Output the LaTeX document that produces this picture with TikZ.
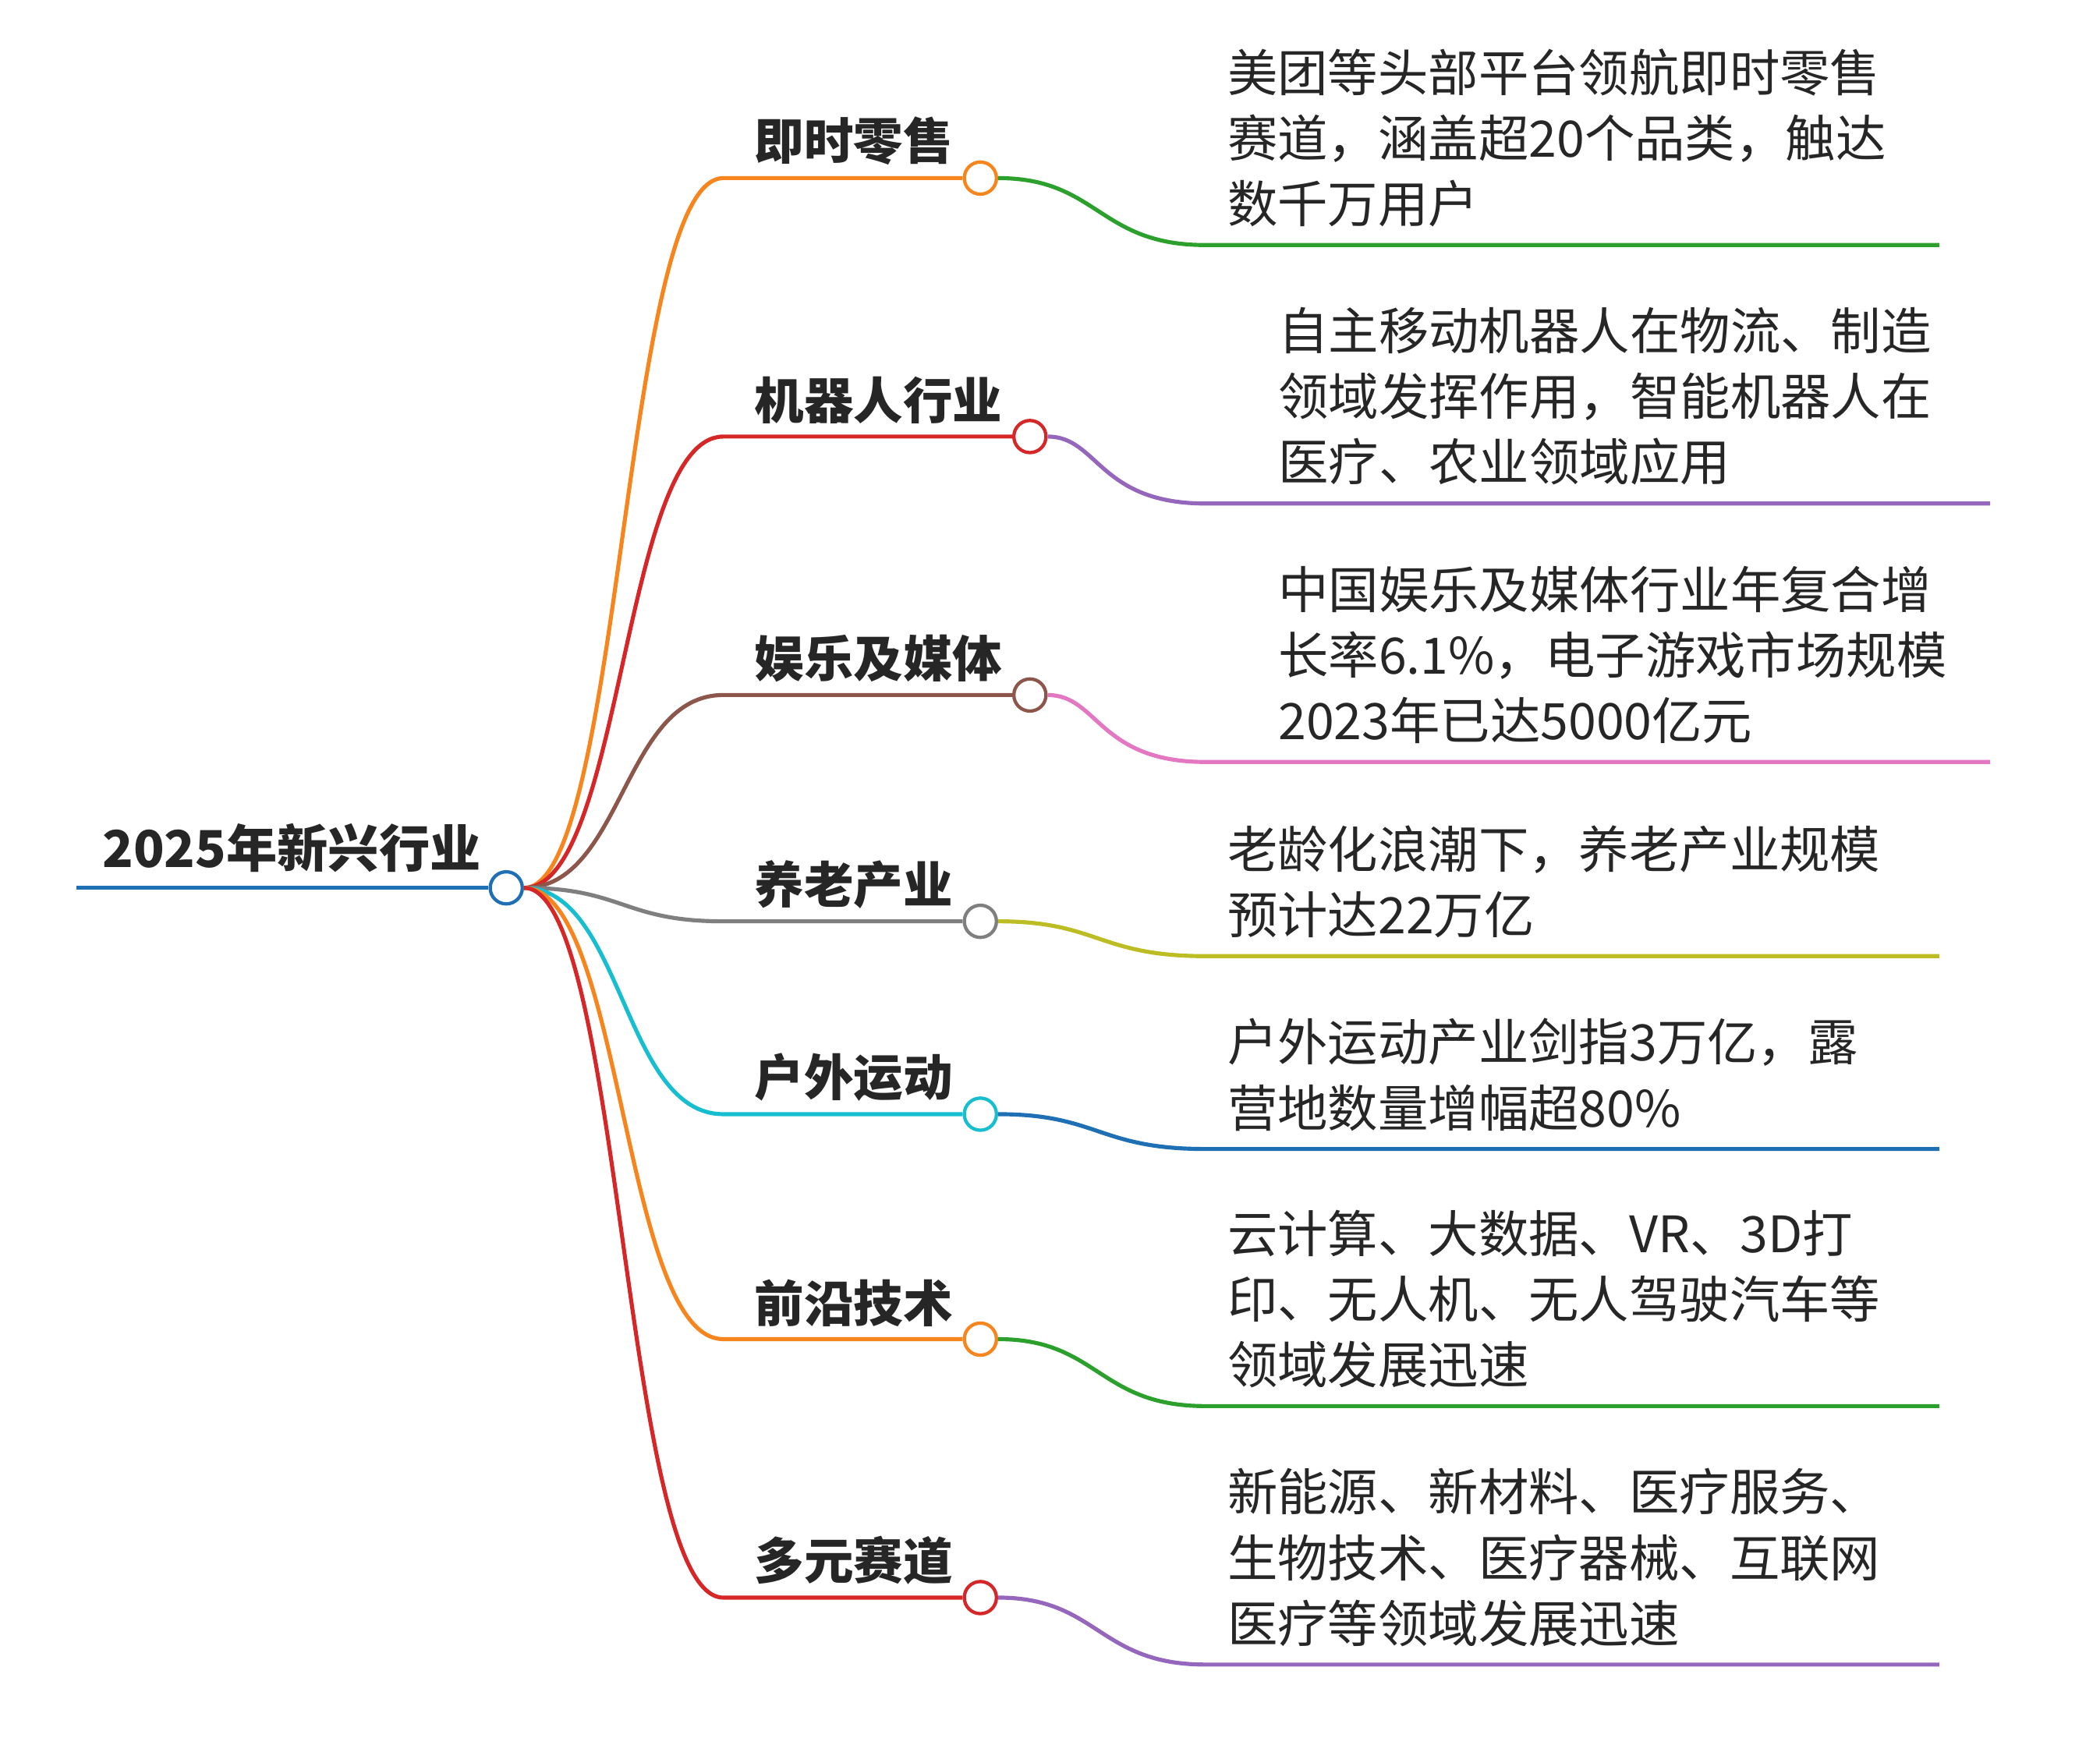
\documentclass[tikz,border=0pt]{standalone}
\usepackage{fontspec}
\setmainfont{Noto Sans CJK SC}
\definecolor{cor}{HTML}{F7851E}
\definecolor{cre}{HTML}{D62728}
\definecolor{cbr}{HTML}{8C564B}
\definecolor{cgy}{HTML}{7F7F7F}
\definecolor{ccy}{HTML}{17BECF}
\definecolor{cbl}{HTML}{1F6FB4}
\definecolor{cgr}{HTML}{2CA02C}
\definecolor{cpu}{HTML}{9467BD}
\definecolor{cpk}{HTML}{E377C2}
\definecolor{col}{HTML}{BCBD22}
\begin{document}
\begin{tikzpicture}[x=1pt,y=-1pt,line width=3pt,
  lab/.style={anchor=south west,inner sep=0pt,font=\fontsize{37}{49}\selectfont\bfseries,text=black!85},
  leaf/.style={anchor=south west,inner sep=0pt,align=left,font=\fontsize{37.5}{49}\selectfont,text=black!85},
  dot/.style={circle,draw,fill=white,line width=2.5pt,minimum size=24pt,inner sep=0pt}]
\useasboundingbox (0,0) rectangle (1568,1308);
\fill[white] (0,0) rectangle (1568,1308);
\coordinate (rs) at (57,663);
\node[dot,draw=cbl] (root) at (378,663) {};
\draw[cbl] (rs) -- (root.west);
\node[lab,font=\fontsize{38}{40}\selectfont\bfseries] (rt) at (75,653) {2025年新兴行业};
\foreach \i/\y/\cx/\bc/\lc/\ex/\lx/\d/\lab/\txt in {
 1/133/732/cor/cgr/1448/915/50/即时零售/{美团等头部平台领航即时零售\\赛道，涵盖超20个品类，触达\\数千万用户},
 2/326/769/cre/cpu/1486/953/50/机器人行业/{自主移动机器人在物流、制造\\领域发挥作用，智能机器人在\\医疗、农业领域应用},
 3/519/769/cbr/cpk/1486/953/50/娱乐及媒体/{中国娱乐及媒体行业年复合增\\长率6.1\%，电子游戏市场规模\\2023年已达5000亿元},
 4/688/732/cgy/col/1448/915/26/养老产业/{老龄化浪潮下，养老产业规模\\预计达22万亿},
 5/832/732/ccy/cbl/1448/915/26/户外运动/{户外运动产业剑指3万亿，露\\营地数量增幅超80\%},
 6/1000/732/cor/cgr/1448/915/50/前沿技术/{云计算、大数据、VR、3D打\\印、无人机、无人驾驶汽车等\\领域发展迅速},
 7/1193/732/cre/cpu/1448/915/50/多元赛道/{新能源、新材料、医疗服务、\\生物技术、医疗器械、互联网\\医疗等领域发展迅速}}{
  \node[dot,draw=\bc] (c\i) at (\cx,\y) {};
  \coordinate (b\i) at (540,\y);
  \draw[\bc] (root.east) .. controls (465,663) and (465,\y) .. (b\i) -- (c\i.west);
  \node[lab] (l\i) at (562,\y-8) {\lab};
  \coordinate (m\i) at (900,\y+\d);
  \coordinate (e\i) at (\ex,\y+\d);
  \draw[\lc] (c\i.east) .. controls (820,\y) and (820,\y+\d) .. (m\i) -- (e\i);
  \node[leaf] (t\i) at (\lx,\y+\d-12) {\txt};
}
\end{tikzpicture}
\end{document}
